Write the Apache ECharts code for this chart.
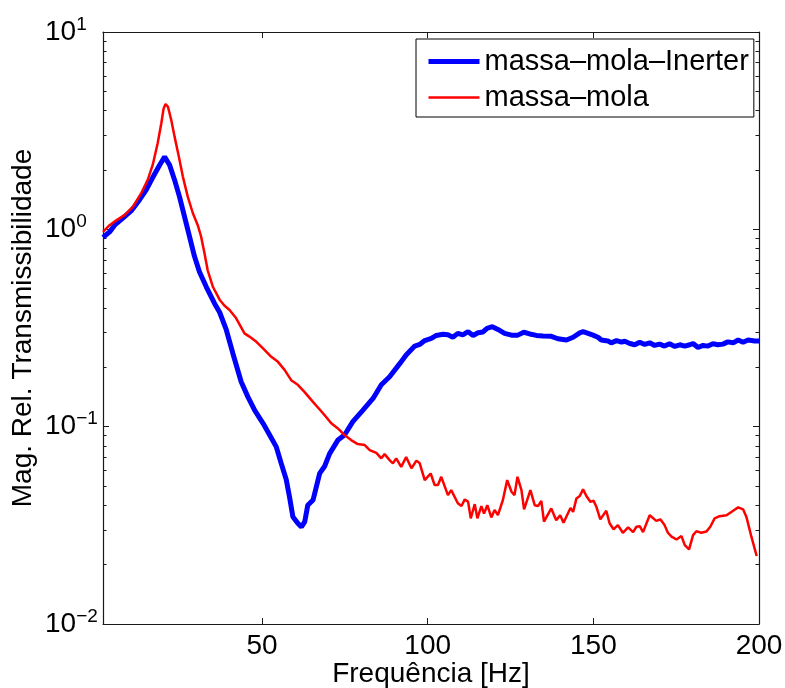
<!DOCTYPE html>
<html lang="pt">
<head>
    <meta charset="UTF-8">
    <title>Transmissibilidade</title>
    <script src="https://cdn.jsdelivr.net/npm/echarts@6/dist/echarts.min.js"></script>
    <style>
        html, body { margin: 0; padding: 0; background: #fff; }
        #chart { width: 785px; height: 688px; }
    </style>
</head>
<body>
<div id="chart"></div>
<script>
    // frequencias [Hz] e magnitudes
    var freqBlue = [2.0, 4.0, 5.5, 8.0, 10.5, 13.0, 15.0, 17.0, 19.1, 20.6,
        22.1, 23.6, 25.1, 26.6, 28.1, 29.6, 31.1, 33.2, 35.7, 37.2,
        39.2, 41.2, 43.7, 45.7, 47.8, 50.3, 52.3, 54.3, 55.8, 57.3,
        58.3, 59.3, 60.8, 61.9, 62.9, 63.8, 65.4, 67.4, 68.9, 70.4,
        72.9, 74.9, 77.4, 80.4, 83.5, 86.0, 88.5, 91.5, 93.5, 96.1,
        97.6, 99.1, 101.1, 102.6, 104.6, 106.1, 107.6, 109.1, 110.6, 112.2,
        113.7, 115.2, 116.7, 117.9, 119.5, 121.2, 123.2, 125.3, 127.2, 129.0,
        130.8, 132.8, 134.8, 137.3, 139.3, 141.9, 143.9, 145.9, 146.9, 148.4,
        149.9, 151.4, 152.4, 154.4, 155.4, 157.0, 158.5, 159.5, 161.0, 162.5,
        164.0, 165.5, 167.0, 168.5, 170.0, 171.5, 173.0, 174.6, 176.1, 177.6,
        179.1, 180.1, 181.6, 183.1, 184.6, 186.1, 187.6, 189.1, 190.6, 192.2,
        193.7, 195.2, 196.7, 198.7, 200];
    var magBlue = [0.91, 0.97, 1.05, 1.14, 1.24, 1.41, 1.58, 1.83, 2.12, 2.33,
        2.12, 1.78, 1.46, 1.16, 0.92, 0.73, 0.61, 0.51, 0.42, 0.38,
        0.31, 0.235, 0.169, 0.142, 0.121, 0.104, 0.0907, 0.079, 0.065, 0.054,
        0.044, 0.035, 0.0324, 0.031, 0.033, 0.040, 0.0425, 0.058, 0.063, 0.073,
        0.0855, 0.0907, 0.106, 0.121, 0.139, 0.163, 0.179, 0.208, 0.231, 0.256,
        0.261, 0.273, 0.280, 0.290, 0.294, 0.292, 0.284, 0.297, 0.292, 0.303,
        0.290, 0.299, 0.302, 0.315, 0.321, 0.311, 0.297, 0.291, 0.291, 0.301,
        0.295, 0.290, 0.288, 0.287, 0.279, 0.275, 0.284, 0.299, 0.303, 0.297,
        0.291, 0.284, 0.275, 0.272, 0.266, 0.273, 0.268, 0.271, 0.264, 0.260,
        0.268, 0.261, 0.266, 0.258, 0.262, 0.256, 0.263, 0.255, 0.260, 0.256,
        0.260, 0.264, 0.252, 0.258, 0.256, 0.263, 0.260, 0.262, 0.269, 0.266,
        0.275, 0.268, 0.275, 0.272, 0.272];

    var freqRed = [2.0, 4.0, 6.0, 8.5, 11.0, 13.5, 15.5, 17.0, 18.5, 19.6,
        20.3, 20.9, 21.6, 22.6, 23.6, 24.9, 26.1, 27.6, 29.1, 30.6,
        31.6, 32.6, 33.6, 35.2, 37.2, 38.7, 40.2, 42.2, 44.7, 46.2,
        48.3, 50.3, 52.8, 54.8, 56.8, 58.8, 60.8, 62.8, 65.3, 68.4,
        70.9, 72.9, 74.9, 76.9, 78.9, 81.0, 82.5, 84.5, 86.0, 87.0,
        88.5, 89.5, 90.5, 92.0, 93.5, 95.1, 96.6, 97.6, 99.1, 100.9,
        102.1, 103.1, 104.1, 106.1, 107.1, 109.1, 110.2, 111.2, 112.2, 113.0,
        114.2, 115.0, 116.2, 117.0, 118.0, 119.2, 120.2, 121.2, 122.7, 124.0,
        125.3, 126.2, 127.1, 128.3, 129.1, 131.0, 132.3, 133.3, 134.3, 135.1,
        137.3, 138.8, 140.0, 141.0, 143.1, 143.9, 144.9, 145.9, 146.9, 147.9,
        149.1, 150.1, 150.9, 152.1, 153.9, 154.9, 156.1, 157.4, 158.9, 160.5,
        162.0, 163.0, 164.0, 165.0, 167.0, 169.0, 170.2, 171.5, 172.5, 173.6,
        175.1, 176.6, 177.6, 178.9, 180.1, 181.1, 182.6, 184.1, 185.3, 186.6,
        188.1, 190.2, 192.2, 193.7, 195.2, 196.2, 197.7, 199.3];
    var magRed = [0.97, 1.05, 1.11, 1.18, 1.30, 1.52, 1.78, 2.12, 2.73, 3.45,
        4.10, 4.32, 4.18, 3.58, 2.95, 2.33, 1.85, 1.46, 1.21, 1.05,
        0.92, 0.76, 0.62, 0.51, 0.44, 0.41, 0.39, 0.354, 0.297, 0.286,
        0.269, 0.249, 0.226, 0.213, 0.194, 0.172, 0.163, 0.150, 0.134, 0.117,
        0.104, 0.098, 0.0907, 0.0855, 0.0816, 0.0807, 0.0761, 0.0737, 0.0691, 0.0726,
        0.0677, 0.0652, 0.0691, 0.0626, 0.0701, 0.0615, 0.0673, 0.0652, 0.0536, 0.0579,
        0.0506, 0.0506, 0.0557, 0.045, 0.0477, 0.0409, 0.0396, 0.0428, 0.0416, 0.0343,
        0.0405, 0.0343, 0.0396, 0.0363, 0.040, 0.0347, 0.0378, 0.0356, 0.0425, 0.0536,
        0.0468, 0.045, 0.0557, 0.0477, 0.0381, 0.0477, 0.040, 0.0396, 0.0421, 0.033,
        0.0385, 0.0336, 0.0356, 0.0326, 0.0387, 0.037, 0.0433, 0.0445, 0.0481, 0.0445,
        0.0416, 0.0421, 0.0393, 0.0339, 0.0375, 0.0324, 0.0302, 0.0317, 0.029, 0.0309,
        0.0292, 0.0311, 0.0313, 0.0292, 0.0356, 0.0333, 0.0339, 0.0317, 0.029, 0.0277,
        0.0268, 0.0279, 0.0251, 0.0239, 0.0282, 0.0295, 0.029, 0.0294, 0.0311, 0.0343,
        0.0352, 0.0356, 0.0375, 0.039, 0.0381, 0.0349, 0.0277, 0.0221];

    var xTicks = [50, 100, 150, 200];
    var seriesNames = ['massa\u2013mola\u2013Inerter', 'massa\u2013mola'];

    function pairs(xs, ys) {
        var out = [];
        for (var i = 0; i < xs.length; i++) {
            out.push([xs[i], ys[i]]);
        }
        return out;
    }

    var font = "'Liberation Sans', Arial, Helvetica, sans-serif";
    var axisColor = '#1a1a1a';

    var myChart = echarts.init(document.getElementById('chart'), null, {renderer: 'canvas'});
    myChart.setOption({
        animation: false,
        backgroundColor: '#fff',
        grid: {left: 103, right: 26, top: 32, bottom: 64, outerBoundsMode: 'none', containLabel: false},
        legend: {
            orient: 'vertical',
            left: 416,
            top: 39,
            padding: [8, 5, 5, 10],
            itemGap: 7,
            itemWidth: 51,
            itemHeight: 14,
            backgroundColor: '#fff',
            borderColor: '#000',
            borderWidth: 1,
            itemStyle: {opacity: 0},
            textStyle: {fontFamily: font, fontSize: 29, color: '#000'},
            data: [
                {name: seriesNames[0], lineStyle: {width: 5, color: '#0000ff'}},
                {name: seriesNames[1], lineStyle: {width: 2.5, color: '#ff0000'}}
            ]
        },
        xAxis: [{
            type: 'value',
            min: 2,
            max: 200,
            position: 'bottom',
            name: 'Frequ\u00eancia [Hz]',
            nameLocation: 'middle',
            nameGap: 36,
            nameMoveOverlap: false,
            nameTextStyle: {fontFamily: font, fontSize: 28, color: '#000'},
            axisLine: {show: true, lineStyle: {color: axisColor, width: 1.2}},
            axisTick: {show: true, inside: true, length: 6, customValues: [50, 100, 150],
                lineStyle: {color: axisColor}},
            axisLabel: {customValues: xTicks, fontFamily: font, fontSize: 28, color: '#000', margin: 8},
            splitLine: {show: false}
        }, {
            type: 'value',
            min: 2,
            max: 200,
            position: 'top',
            axisLine: {show: true, lineStyle: {color: axisColor, width: 1.2}},
            axisTick: {show: true, inside: true, length: 6, customValues: [50, 100, 150],
                lineStyle: {color: axisColor}},
            axisLabel: {show: false},
            splitLine: {show: false}
        }],
        yAxis: [{
            type: 'log',
            logBase: 10,
            min: 0.01,
            max: 10,
            position: 'left',
            name: 'Mag. Rel. Transmissibilidade',
            nameLocation: 'middle',
            nameGap: 66,
            nameMoveOverlap: false,
            nameTextStyle: {fontFamily: font, fontSize: 28, color: '#000'},
            axisLine: {show: true, lineStyle: {color: axisColor, width: 1.2}},
            axisTick: {show: true, inside: true, length: 6, lineStyle: {color: axisColor}},
            minorTick: {show: true, splitNumber: 9, length: 3.5, lineStyle: {color: axisColor}},
            axisLabel: {
                margin: 58,
                align: 'left',
                formatter: function (v) {
                    var e = Math.round(Math.log10(v));
                    return '{b|10}{s|' + (e < 0 ? '\u2212' + (-e) : e) + '}';
                },
                rich: {
                    b: {fontFamily: font, fontSize: 28, color: '#000', lineHeight: 34},
                    s: {fontFamily: font, fontSize: 19, color: '#000', lineHeight: 19, verticalAlign: 'top'}
                }
            },
            splitLine: {show: false}
        }, {
            type: 'log',
            logBase: 10,
            min: 0.01,
            max: 10,
            position: 'right',
            axisLine: {show: true, lineStyle: {color: axisColor, width: 1.2}},
            axisTick: {show: true, inside: true, length: 6, lineStyle: {color: axisColor}},
            minorTick: {show: true, splitNumber: 9, length: 3.5, lineStyle: {color: axisColor}},
            axisLabel: {show: false},
            splitLine: {show: false}
        }],
        series: [{
            name: seriesNames[0],
            type: 'line',
            xAxisIndex: 0,
            yAxisIndex: 0,
            showSymbol: false,
            symbol: 'none',
            lineStyle: {color: '#0000ff', width: 5},
            itemStyle: {color: '#0000ff'},
            data: pairs(freqBlue, magBlue)
        }, {
            name: seriesNames[1],
            type: 'line',
            xAxisIndex: 0,
            yAxisIndex: 0,
            showSymbol: false,
            symbol: 'none',
            lineStyle: {color: '#ff0000', width: 2.5},
            itemStyle: {color: '#ff0000'},
            data: pairs(freqRed, magRed)
        }]
    });
</script>
</body>
</html>
